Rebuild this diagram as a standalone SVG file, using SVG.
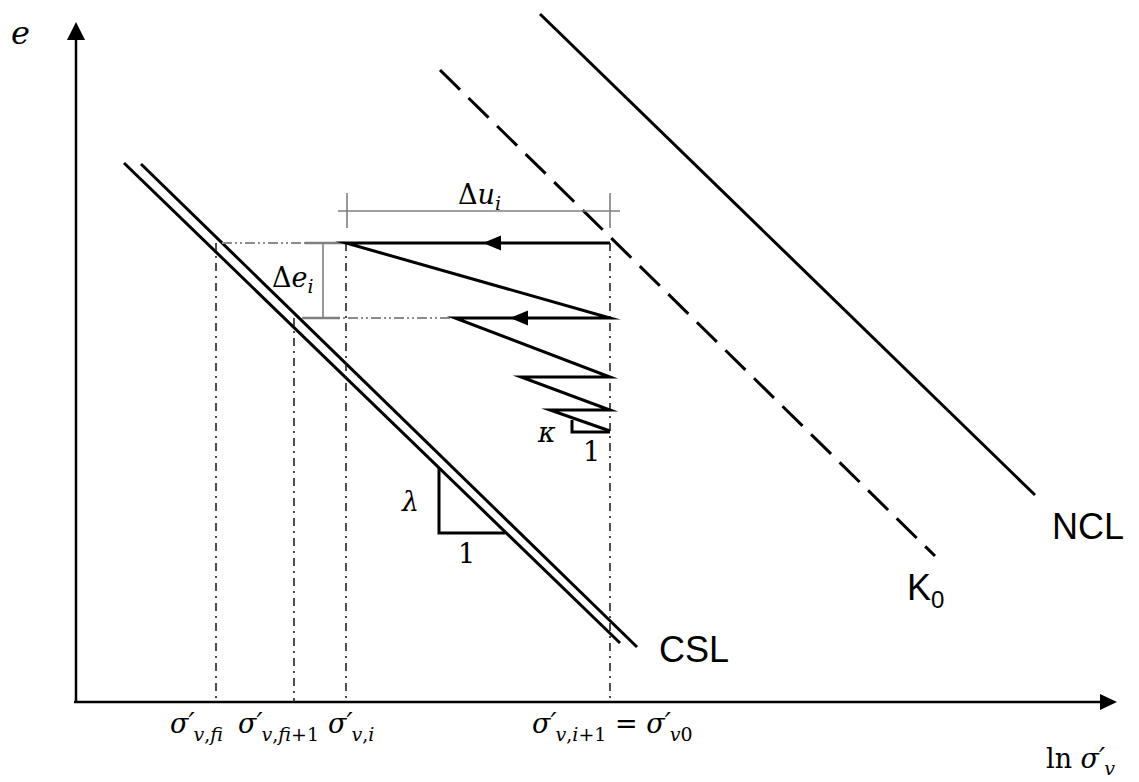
<svg xmlns="http://www.w3.org/2000/svg" width="1139" height="782" viewBox="0 0 1139 782">
<style>
.ax{stroke:#000;stroke-width:2.5;fill:none}
.thk{stroke:#000;stroke-width:3;fill:none;stroke-linejoin:miter;stroke-miterlimit:20}
.dd{stroke:#222;stroke-width:1.6;fill:none;stroke-dasharray:8 5 2 5}
.gd{stroke:#8c8c8c;stroke-width:2;fill:none;stroke-dasharray:10 3 2 3 2 3}
.dim{stroke:#7f7f7f;stroke-width:1.6;fill:none}
.m{font-family:"DejaVu Serif","Liberation Serif",serif;font-style:italic;font-size:27px;fill:#000}
.u{font-style:normal}
.sb{font-size:19px}
.lab{font-family:"Liberation Sans",Arial,sans-serif;font-size:36px;fill:#000}
</style>
<defs>
<path id="ahL" d="M0,0 L18,-7.5 L18,7.5 Z" fill="#000"/>
</defs>
<g id="axes">
<line class="ax" x1="76" y1="703" x2="76" y2="38"/>
<polygon points="76,22 67,40 85,40" fill="#000"/>
<line class="ax" x1="74" y1="702" x2="1102" y2="702"/>
<polygon points="1117,702 1100,694 1100,710" fill="#000"/>
<text class="m" x="11" y="44" style="font-size:32px">e</text>
<text class="m" x="1046" y="768"><tspan class="u">ln </tspan>σ′<tspan class="sb" dx="-1" dy="7">v</tspan></text>
</g>
<g id="NCL">
<line class="thk" x1="540" y1="14" x2="1035" y2="495"/>
<text class="lab" x="1052" y="539">NCL</text>
</g>
<g id="K0">
<line class="thk" x1="440" y1="70" x2="935" y2="556" style="stroke-dasharray:28 12"/>
<text class="lab" x="907" y="600">K<tspan style="font-size:24px" dy="8">0</tspan></text>
</g>
<g id="CSL">
<line class="thk" x1="124" y1="163" x2="620" y2="643"/>
<line class="thk" x1="141" y1="164" x2="637" y2="647"/>
<text class="lab" x="659" y="662">CSL</text>
</g>
<g id="guides">
<line class="dd" x1="216" y1="243" x2="216" y2="702"/>
<line class="dd" x1="294" y1="318" x2="294" y2="702"/>
<line class="dd" x1="346" y1="243" x2="346" y2="702"/>
<line class="dd" x1="610" y1="243" x2="610" y2="702"/>
<line class="gd" x1="222" y1="243" x2="346" y2="243"/>
<line class="gd" x1="302" y1="318" x2="455" y2="318"/>
</g>
<g id="dimensions">
<line class="dim" x1="338" y1="211" x2="620" y2="211"/>
<line class="dim" x1="347" y1="193" x2="347" y2="228"/>
<line class="dim" x1="610" y1="193" x2="610" y2="228"/>
<text class="m" x="458" y="204"><tspan class="u">Δ</tspan>u<tspan class="sb" dy="6">i</tspan></text>
<line class="dim" x1="323" y1="243" x2="323" y2="318"/>
<line class="dim" x1="305" y1="243" x2="345" y2="243" style="stroke-width:2.5"/>
<line class="dim" x1="303" y1="318" x2="340" y2="318" style="stroke-width:2.5"/>
<text class="m" x="272" y="287"><tspan class="u">Δ</tspan>e<tspan class="sb" dy="6">i</tspan></text>
</g>
<g id="path">
<polyline class="thk" points="610,243 346,243 610,318 455,318 610,377 521,377 610,410 550,410 610,431"/>
<polyline class="thk" points="572,420 572,432 610,432"/>
<use href="#ahL" x="483" y="243"/>
<use href="#ahL" x="510" y="318"/>
<text class="m" x="538" y="442">κ</text>
<text class="m u" x="583" y="461" style="font-style:normal">1</text>
</g>
<g id="lambda">
<polyline class="thk" points="439,468 439,533 505,533"/>
<text class="m" x="402" y="511">λ</text>
<text class="m" x="458" y="563" style="font-style:normal">1</text>
</g>
<g id="axis-labels">
<text class="m" x="170" y="733">σ′<tspan class="sb" dx="-1" dy="8">v<tspan class="u">,</tspan>fi</tspan></text>
<text class="m" x="238" y="733">σ′<tspan class="sb" dx="-1" dy="8">v<tspan class="u">,</tspan>fi<tspan class="u">+1</tspan></tspan></text>
<text class="m" x="328" y="733">σ′<tspan class="sb" dx="-1" dy="8">v<tspan class="u">,</tspan>i</tspan></text>
<text class="m" x="532" y="733">σ′<tspan class="sb" dx="-1" dy="8">v<tspan class="u">,</tspan>i<tspan class="u">+1</tspan></tspan><tspan class="u" dy="-8"> = </tspan>σ′<tspan class="sb" dx="-1" dy="8">v<tspan class="u">0</tspan></tspan></text>
</g>
</svg>
